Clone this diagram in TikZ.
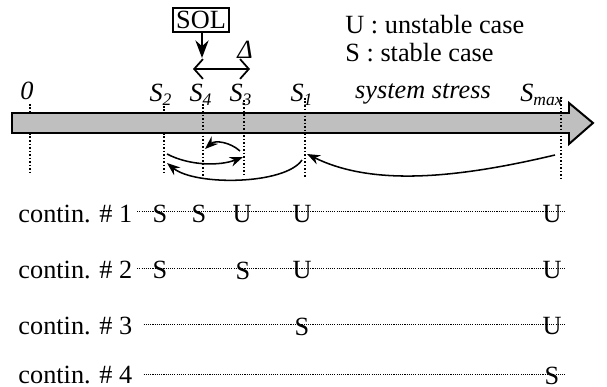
\documentclass[tikz,border=0pt]{standalone}
\usepackage{fontspec}
\setmainfont{Liberation Serif}
\usetikzlibrary{arrows.meta, positioning}
\tikzset{%
	txt/.style={inner sep=0pt, font=\fontsize{12}{14}\selectfont},
	tick line/.style={dash pattern=on 0.8pt off 0.8pt, line width=0.5pt},
	row line/.style={dash pattern=on 0.5pt off 0.5pt, line width=0.4pt},
	jump/.style={-{Stealth[length=6pt, width=4.5pt]}, line width=0.7pt},
}

\begin{document}
\begin{tikzpicture}[x=0.4565pt, y=-0.4565pt]
			\useasboundingbox (0,0) rectangle (607,387);
			
			% Draw the stress bar
			\draw[fill=gray!50, line width=0.9pt] (12,113) -- (569,113) -- (569,103) -- (593,123)
				-- (569,144) -- (569,133) -- (12,133) -- cycle;
			
			% Draw the tick lines
			\coordinate (t0) at (30,0);
			\coordinate (tS2) at (164,0);
			\coordinate (tS4) at (203,0);
			\coordinate (tS3) at (244,0);
			\coordinate (tS1) at (305,0);
			\coordinate (tSmax) at (561,0);
			\draw[tick line] (t0 |- 0,104) -- (t0 |- 0,113);
			\draw[tick line] (t0 |- 0,133) -- (t0 |- 0,175);
			\draw[tick line] (tS2 |- 0,106) -- (tS2 |- 0,113);
			\draw[tick line] (tS2 |- 0,133) -- (tS2 |- 0,175);
			\draw[tick line] (tS4 |- 0,104) -- (tS4 |- 0,176);
			\draw[tick line] (tS3 |- 0,100) -- (tS3 |- 0,177);
			\draw[tick line] (tS1 |- 0,98) -- (tS1 |- 0,177);
			\draw[tick line] (tSmax |- 0,97) -- (tSmax |- 0,178);
			
			% Labels above the bar
			\node[txt] (l0) at (27,91) {\itshape 0};
			\node[txt] (lS2) at (161,95) {\itshape S\textsubscript{2}};
			\node[txt] (lS4) at (201,95) {\itshape S\textsubscript{4}};
			\node[txt] (lS3) at (241,95) {\itshape S\textsubscript{3}};
			\node[txt] (lS1) at (302,95) {\itshape S\textsubscript{1}};
			\node[txt] (stress) at (423,94) {\itshape system stress};
			\node[txt] (lSmax) at (542,95) {\itshape S\textsubscript{max}};
			
			% SOL box and the delta range
			\node[txt, draw, line width=0.6pt, inner sep=1.5pt] (sol) at (201,20) {SOL};
			\coordinate (solend) at (202,58);
			\draw[-{Stealth[length=8pt, width=6pt]}, line width=1pt] (sol.south -| solend) -- (solend);
			\coordinate (dleft) at (193,69);
			\coordinate (dright) at (250,69);
			\draw[{Straight Barb[length=4pt, width=9pt]}-{Straight Barb[length=4pt, width=9pt]}, line width=0.8pt] (dleft) -- (dright);
			\node[txt] (delta) at (245,50) {\itshape Δ};
			
			% Legend
			\node[txt, anchor=west] (legU) at (345,25) {U : unstable case};
			\node[txt, anchor=west] (legS) at (345,53) {S : stable case};
			
			% Jumps between the stress levels
			\coordinate (j1a) at (555,155);
			\coordinate (j1b) at (307,154);
			\coordinate (j2a) at (302,160);
			\coordinate (j2b) at (167,163);
			\coordinate (j3a) at (167,154);
			\coordinate (j3b) at (243,157);
			\coordinate (j4a) at (240,151);
			\coordinate (j4b) at (205,149);
			\draw[jump] (j1a) .. controls (450,180) and (370,185) .. (j1b);
			\draw[jump] (j2a) .. controls (285,185) and (195,186) .. (j2b);
			\draw[jump] (j3a) .. controls (190,166) and (220,166) .. (j3b);
			\draw[jump] (j4a) .. controls (230,142) and (215,140) .. (j4b);
			
			% Contingency rows
			\node[txt, anchor=west] (r1) at (18,214) {contin. \# 1};
			\node[txt, anchor=west] (r2) at (18,270) {contin. \# 2};
			\node[txt, anchor=west] (r3) at (18,326) {contin. \# 3};
			\node[txt, anchor=west] (r4) at (18,375) {contin. \# 4};
			\coordinate (e1) at (566,211);
			\coordinate (e2) at (566,268);
			\coordinate (e3) at (566,324);
			\coordinate (e4) at (566,374);
			\draw[row line] ([xshift=2pt]r1.east |- e1) -- (e1);
			\draw[row line] ([xshift=2pt]r2.east |- e2) -- (e2);
			\draw[row line] ([xshift=5pt]r3.east |- e3) -- (e3);
			\draw[row line] ([xshift=5pt]r4.east |- e4) -- (e4);
			
			\node[txt] (c1a) at (160,214) {S};
			\node[txt] (c1b) at (199,214) {S};
			\node[txt] (c1c) at (242,214) {U};
			\node[txt] (c1d) at (302,214) {U};
			\node[txt] (c1e) at (552,214) {U};
			\node[txt] (c2a) at (160,270) {S};
			\node[txt] (c2b) at (243,271) {S};
			\node[txt] (c2c) at (302,270) {U};
			\node[txt] (c2d) at (552,270) {U};
			\node[txt] (c3a) at (302,327) {S};
			\node[txt] (c3b) at (552,326) {U};
			\node[txt] (c4a) at (552,376) {S};

		\end{tikzpicture}
\end{document}
